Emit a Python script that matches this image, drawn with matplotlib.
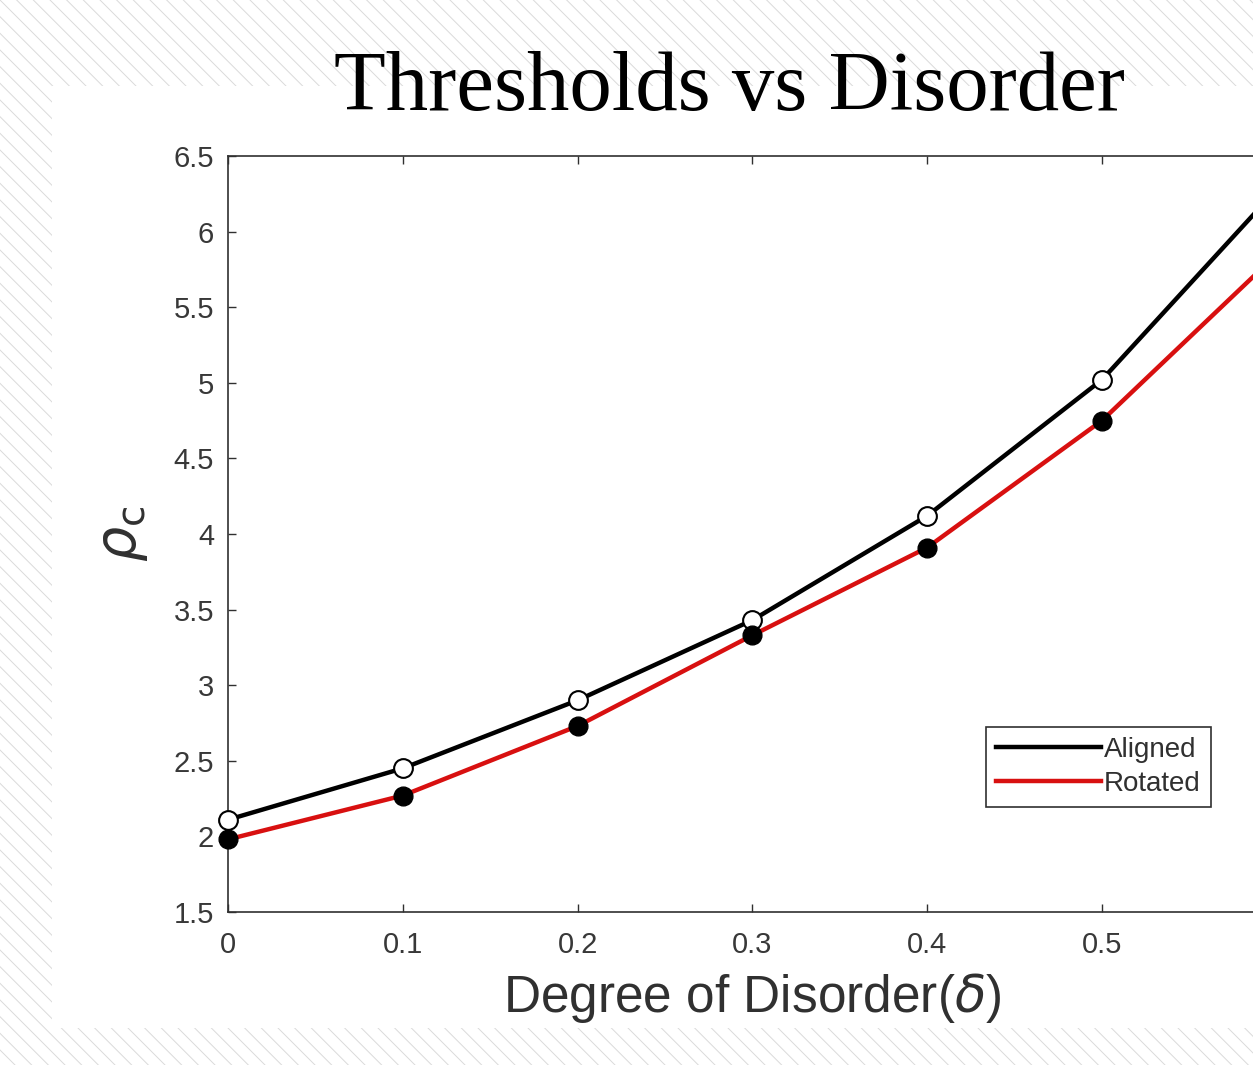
import matplotlib
matplotlib.use("Agg")
from matplotlib import pyplot as plt
from matplotlib.patches import Rectangle
from matplotlib.lines import Line2D

# values
disorder = [0.0, 0.1, 0.2, 0.3, 0.4, 0.5, 0.6]
aligned = [2.11, 2.45, 2.90, 3.43, 4.12, 5.02, 6.28]
rotated = [1.98, 2.27, 2.73, 3.33, 3.91, 4.75, 5.85]
xticks = [0, 0.1, 0.2, 0.3, 0.4, 0.5, 0.6]
yticks = [1.5, 2, 2.5, 3, 3.5, 4, 4.5, 5, 5.5, 6, 6.5]

plt.rcParams['hatch.linewidth'] = 0.7
plt.rcParams['font.family'] = ['Liberation Sans', 'DejaVu Sans']
plt.rcParams['mathtext.fontset'] = 'dejavusans'

fig = plt.figure(figsize=(12.53, 10.65), dpi=100)

# hatched page background + white panel
fig.patches.append(Rectangle((0, 0), 1, 1, transform=fig.transFigure,
                             facecolor='white', edgecolor='#dadada',
                             hatch='\\\\', lw=0, zorder=-10))
fig.patches.append(Rectangle((0.0415, 0.0347), 1.0, 0.885, transform=fig.transFigure,
                             facecolor='white', edgecolor='none', zorder=-9))

ax = fig.add_axes([0.182, 0.1437, 0.837, 0.7099])
ax.set_facecolor('white')

ax.plot(disorder, aligned, color='black', lw=3.2, zorder=3)
ax.plot(disorder, rotated, color='#d81010', lw=3.2, zorder=3)
ax.plot(disorder, aligned, 'o', ms=13.5, mfc='white', mec='black', mew=1.5,
        zorder=4, clip_on=False)
ax.plot(disorder, rotated, 'o', ms=13.5, mfc='black', mec='black',
        zorder=4, clip_on=False)

ax.set_xlim(0, 0.6)
ax.set_ylim(1.5, 6.5)
ax.set_xticks(xticks)
ax.set_yticks(yticks)
ax.set_xticklabels([f'{v:g}' for v in xticks])
ax.set_yticklabels([f'{v:g}' for v in yticks])

for s in ax.spines.values():
    s.set_color('#303030')
    s.set_linewidth(1.2)
ax.tick_params(direction='in', length=6, width=1, colors='#303030',
               top=True, right=True, labelsize=21, labelcolor='#383838')
ax.tick_params(axis='x', pad=14)
ax.tick_params(axis='y', pad=10)

ax.set_xlabel(r'Degree of Disorder($\delta$)', fontsize=37, color='#303030',
              labelpad=8)
ax.set_ylabel(r'$\rho_{\rm c}$', fontsize=40, color='#303030', labelpad=17)

handles = [Line2D([], [], color='black', lw=3.2),
           Line2D([], [], color='#d81010', lw=3.2)]
leg = fig.legend(handles, ['Aligned', 'Rotated'], loc='upper left',
                 bbox_to_anchor=(986 / 1253, 1 - 727 / 1065),
                 fontsize=20, frameon=True, fancybox=False, framealpha=1,
                 edgecolor='#303030', handlelength=3.8, handletextpad=0.1,
                 borderpad=0.35, labelspacing=0.3, borderaxespad=0)
leg.get_frame().set_linewidth(1.2)
for t in leg.get_texts():
    t.set_color('#303030')

fig.text(730 / 1253, 1 - 110 / 1065, 'Thresholds vs Disorder',
         family='Liberation Serif', fontsize=61, ha='center', va='baseline')

fig.savefig('out.png', dpi=100)
